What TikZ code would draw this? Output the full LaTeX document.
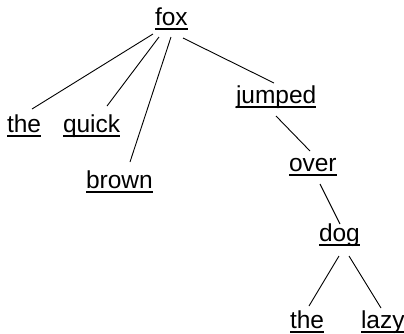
\documentclass[tikz,border=0pt]{standalone}
\usepackage{fontspec}
\setmainfont{Liberation Sans}
\usetikzlibrary{calc}
% underlined word: rule at a fixed distance below the baseline
\newcommand\ulword[1]{\setbox0\hbox{#1}\rlap{\rule[-4.6bp]{\wd0}{1.3bp}}\box0}
\tikzset{
  word/.style={inner sep=0pt, outer sep=0pt, anchor=base west,
    font=\fontsize{24.5bp}{29bp}\selectfont},
  link/.style={draw=black, line width=0.9bp}
}
\begin{document}
\begin{tikzpicture}[x=1bp, y=-1bp]
\useasboundingbox[fill=white] (0,0) rectangle (404,334);
% words, placed by their baseline start
\node[word] (fox)    at (155,25)  {\ulword{fox}};
\node[word] (the)    at (7,132)   {\ulword{the}};
\node[word] (quick)  at (63,132)  {\ulword{quick}};
\node[word] (brown)  at (86,188)  {\ulword{brown}};
\node[word] (jumped) at (236,103) {\ulword{jumped}};
\node[word] (over)   at (289,171) {\ulword{over}};
\node[word] (dog)    at (319,241) {\ulword{dog}};
\node[word] (theb)   at (290,328) {\ulword{the}};
\node[word] (lazy)   at (361,328) {\ulword{lazy}};
% tree links
\draw[link] ($(fox.base west)+(-2,9)$)   -- ($(the.base west)+(25,-23)$);
\draw[link] ($(fox.base west)+(4,12)$)   -- ($(quick.base west)+(44,-26)$);
\draw[link] ($(fox.base west)+(16,12)$)  -- ($(brown.base west)+(44,-26)$);
\draw[link] ($(fox.base west)+(28,13)$)  -- ($(jumped.base west)+(38,-20)$);
\draw[link] ($(jumped.base west)+(40,13)$) -- ($(over.base west)+(21,-20)$);
\draw[link] ($(over.base west)+(31,13)$) -- ($(dog.base west)+(21,-17)$);
\draw[link] ($(dog.base west)+(20,15)$)  -- ($(theb.base west)+(19,-22)$);
\draw[link] ($(dog.base west)+(30,15)$)  -- ($(lazy.base west)+(20,-20)$);
\end{tikzpicture}
\end{document}
